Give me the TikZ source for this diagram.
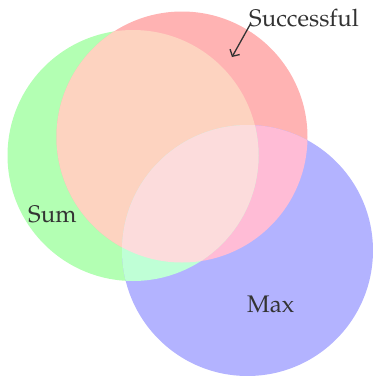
\documentclass[tikz,border=0pt]{standalone}
\usepackage[T1]{fontenc}
\usepackage{mathpazo}
\usetikzlibrary{arrows.meta}
\definecolor{gOnly}{RGB}{179,255,179}
\definecolor{rOnly}{RGB}{255,179,179}
\definecolor{bOnly}{RGB}{179,179,255}
\definecolor{rgMix}{RGB}{253,211,192}
\definecolor{rbMix}{RGB}{255,188,214}
\definecolor{gbMix}{RGB}{191,255,214}
\definecolor{rgbMix}{RGB}{252,220,220}
\definecolor{ink}{RGB}{51,51,51}
\tikzset{
  setlabel/.style={text=ink, inner sep=0pt, anchor=base west, font=\fontsize{24}{28}\selectfont},
  pointer/.style={draw=ink, line width=1.3pt, -{Straight Barb[length=5pt,width=11pt]}}
}
\begin{document}
\begin{tikzpicture}[x=1pt, y=-1pt]
\useasboundingbox (0,0) rectangle (373,376);
\def\circG{(133,155.5) circle [radius=125.5pt]}
\def\circR{(182,137) circle [radius=125.5pt]}
\def\circB{(247.5,250.5) circle [radius=125.5pt]}
% single sets
\fill[gOnly] \circG;
\fill[rOnly] \circR;
\fill[bOnly] \circB;
% pairwise overlaps
\begin{scope}\clip \circG; \fill[rgMix] \circR;\end{scope}
\begin{scope}\clip \circR; \fill[rbMix] \circB;\end{scope}
\begin{scope}\clip \circG; \fill[gbMix] \circB;\end{scope}
% common part of all three
\begin{scope}\clip \circG; \clip \circR; \fill[rgbMix] \circB;\end{scope}
% labels
\node[setlabel] (succ) at (249,26) {Successful};
\node[setlabel] (sum) at (28,222) {Sum};
\node[setlabel] (max) at (247,312) {Max};
\coordinate (tip) at (232,57);
\draw[pointer] ([shift={(2,-3)}]succ.base west) -- (tip);
\end{tikzpicture}
\end{document}
